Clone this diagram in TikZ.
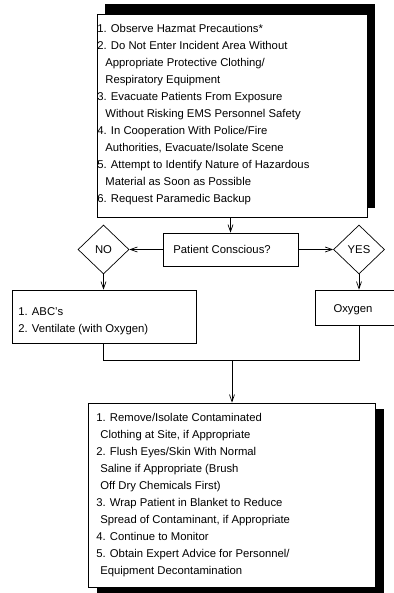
\documentclass[tikz,border=0pt]{standalone}
\usepackage{fontspec}
\setmainfont{Liberation Sans}
\usetikzlibrary{arrows.meta,shapes.geometric}
\begin{document}
\begin{tikzpicture}[x=1pt,y=-1pt,
  line width=0.7pt,
  txt/.style={font=\fontsize{11.3}{17}\selectfont, inner sep=0pt, align=left},
  box/.style={draw, fill=white, rectangle, inner sep=0pt},
  dia/.style={draw, diamond, aspect=1.04, inner sep=0pt, minimum width=51pt, minimum height=49pt, font=\fontsize{11.3}{13}\selectfont},
  arr/.style={-{Straight Barb[length=7pt,width=5pt]}},
]
\useasboundingbox (0,0) rectangle (393,593);
% top box with shadow up-right
\fill[black] (105,4.5) rectangle (375,208);
\node[box, minimum width=270pt, minimum height=203pt] (tb) at (232,115.5) {};
\node[txt, anchor=base west] (tbt) at (97,203) {1. Observe Hazmat Precautions*\\
2. Do Not Enter Incident Area Without\\
\hspace*{8pt}Appropriate Protective Clothing/\\
\hspace*{8pt}Respiratory Equipment\\
3. Evacuate Patients From Exposure\\
\hspace*{8pt}Without Risking EMS Personnel Safety\\
4. In Cooperation With Police/Fire\\
\hspace*{8pt}Authorities, Evacuate/Isolate Scene\\
5. Attempt to Identify Nature of Hazardous\\
\hspace*{8pt}Material as Soon as Possible\\
6. Request Paramedic Backup};
% decision
\node[box, minimum width=135pt, minimum height=33pt] (pc) at (230.5,249.5) {};
\node[txt, anchor=west] (pct) at (173,249.5) {Patient Conscious?};
\node[dia] (no) at (103.5,249.5) {NO};
\node[dia] (yes) at (359,249.5) {YES};
% outcome boxes
\node[box, minimum width=184pt, minimum height=53pt] (lb) at (104,316.5) {};
\node[txt, anchor=base west] (lbt) at (18,332) {1. ABC's\\2. Ventilate (with Oxygen)};
\node[box, minimum width=80pt, minimum height=35pt] (ox) at (355,307.5) {};
\node[txt] (oxt) at (353,310) {Oxygen};
% bottom box with shadow down-right
\fill[black] (97,409) rectangle (384,593);
\node[box, minimum width=287pt, minimum height=184pt] (bb) at (231.5,495) {};
\node[txt, anchor=base west] (bbt) at (96,574) {1. Remove/Isolate Contaminated\\
\hspace*{4pt}Clothing at Site, if Appropriate\\
2. Flush Eyes/Skin With Normal\\
\hspace*{4pt}Saline if Appropriate (Brush\\
\hspace*{4pt}Off Dry Chemicals First)\\
3. Wrap Patient in Blanket to Reduce\\
\hspace*{4pt}Spread of Contaminant, if Appropriate\\
4. Continue to Monitor\\
5. Obtain Expert Advice for Personnel/\\
\hspace*{4pt}Equipment Decontamination};
% connectors
\coordinate (m) at (232,360);
\draw[arr] (tb.south -| pc.north) -- (pc.north);
\draw[arr] (pc.west) -- (no.east);
\draw[arr] (pc.east) -- (yes.west);
\draw[arr] (no.south) -- (no.south |- lb.north);
\draw[arr] (yes.south) -- (yes.south |- ox.north);
\draw (no.south |- lb.south) -- (no.south |- m) -- (yes.south |- m) -- (yes.south |- ox.south);
\draw[arr] (m) -- (m |- bb.north);
\end{tikzpicture}
\end{document}
